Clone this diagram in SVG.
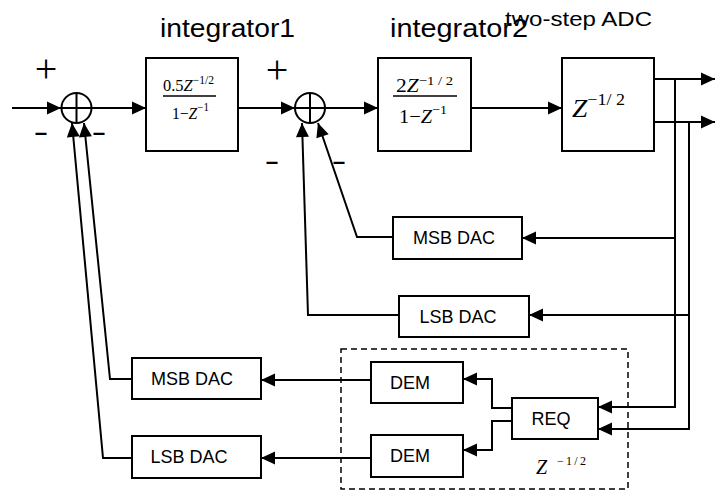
<svg xmlns="http://www.w3.org/2000/svg" width="715" height="493" viewBox="0 0 715 493">
<defs>
<marker id="arr" markerUnits="userSpaceOnUse" markerWidth="15" markerHeight="14" refX="14" refY="6.5" orient="auto" overflow="visible">
<path d="M0,0 L14,6.5 L0,13 z" fill="#000"/>
</marker>
</defs>
<style>
.box{fill:#fff;stroke:#000;stroke-width:2}
.sum{fill:#fff;stroke:#000;stroke-width:2}
.wire{fill:none;stroke:#000;stroke-width:2}
.arrow{fill:none;stroke:#000;stroke-width:2;marker-end:url(#arr)}
.lbl{font-family:"Liberation Sans",Arial,sans-serif;font-size:18px;fill:#000;text-anchor:middle}
.title{font-family:"Liberation Sans",Arial,sans-serif;fill:#000}
.math{font-family:"Liberation Serif","Times New Roman",serif;fill:#000}
.sign{font-family:"Liberation Serif","Times New Roman",serif;font-size:40px;fill:#000;text-anchor:middle}
.minus{font-family:"Liberation Sans",Arial,sans-serif;font-size:28px;fill:#000;text-anchor:middle}
</style>
<rect width="715" height="493" fill="#fff"/>

<g id="titles">
<text class="title" x="160" y="37" font-size="25" textLength="135" lengthAdjust="spacingAndGlyphs">integrator1</text>
<text class="title" x="390" y="37" font-size="25" textLength="138" lengthAdjust="spacingAndGlyphs">integrator2</text>
<text class="title" x="505" y="26" font-size="20" textLength="147" lengthAdjust="spacingAndGlyphs">two-step ADC</text>
</g>

<g id="connectors">
<path class="arrow" d="M12,108 H61"/>
<path class="arrow" d="M92,108 H146"/>
<path class="arrow" d="M238,108 H295"/>
<path class="arrow" d="M325,108 H378"/>
<path class="arrow" d="M471,108 H562"/>
<path class="arrow" d="M654,79 H715"/>
<path class="arrow" d="M654,122 H715"/>
<path class="arrow" d="M675,79 V407 H598"/>
<path class="arrow" d="M689,122 V429 H598"/>
<path class="arrow" d="M675,238 H522"/>
<path class="arrow" d="M689,315 H529"/>
<path class="arrow" d="M393,237 H357 L318,123"/>
<path class="arrow" d="M399,315 H308 L302,123"/>
<path class="arrow" d="M512,408 H492 V379 H463"/>
<path class="arrow" d="M512,421 H492 V450 H463"/>
<path class="arrow" d="M371,380 H261"/>
<path class="arrow" d="M371,458 H261"/>
<path class="arrow" d="M132,379 H110 L84,123"/>
<path class="arrow" d="M132,458 H103 L72,123"/>
</g>

<g id="sum1">
<circle class="sum" cx="76.5" cy="108" r="15"/>
<path class="wire" d="M61.5,108 H91.5 M76.5,93 V123"/>
<text class="sign" x="46" y="82">+</text>
<text class="minus" x="41" y="141" textLength="15" lengthAdjust="spacingAndGlyphs">-</text>
<text class="minus" x="99" y="141" textLength="15" lengthAdjust="spacingAndGlyphs">-</text>
</g>

<g id="integrator1">
<rect class="box" x="146" y="58" width="92" height="93"/>
<text class="math" x="163" y="91" font-size="17" textLength="51" lengthAdjust="spacingAndGlyphs">0.5<tspan font-style="italic">Z</tspan><tspan font-size="12" dy="-7">−1/2</tspan></text>
<line x1="163" y1="96" x2="216" y2="96" stroke="#000" stroke-width="1.5"/>
<text class="math" x="172" y="119" font-size="17" textLength="37" lengthAdjust="spacingAndGlyphs">1−<tspan font-style="italic">Z</tspan><tspan font-size="12" dy="-8">−1</tspan></text>
</g>

<g id="sum2">
<circle class="sum" cx="310" cy="108" r="15"/>
<path class="wire" d="M295,108 H325 M310,93 V123"/>
<text class="sign" x="277" y="83">+</text>
<text class="minus" x="272" y="170" textLength="15" lengthAdjust="spacingAndGlyphs">-</text>
<text class="minus" x="339" y="170" textLength="15" lengthAdjust="spacingAndGlyphs">-</text>
</g>

<g id="integrator2">
<rect class="box" x="378" y="58" width="93" height="93"/>
<text class="math" x="396" y="92" font-size="19" textLength="57" lengthAdjust="spacingAndGlyphs">2<tspan font-style="italic">Z</tspan><tspan font-size="13" dy="-7">−1 / 2</tspan></text>
<line x1="393" y1="96" x2="457" y2="96" stroke="#000" stroke-width="1.5"/>
<text class="math" x="399" y="123" font-size="19" textLength="48" lengthAdjust="spacingAndGlyphs">1−<tspan font-style="italic">Z</tspan><tspan font-size="13" dy="-9">−1</tspan></text>
</g>

<g id="adc">
<rect class="box" x="562" y="58" width="92" height="93"/>
<text class="math" x="572" y="117" font-size="26" textLength="53" lengthAdjust="spacingAndGlyphs"><tspan font-style="italic">Z</tspan><tspan font-size="17" dy="-12">−1/ 2</tspan></text>
</g>

<g id="msb-dac-1">
<rect class="box" x="393" y="217" width="129" height="42"/>
<text class="lbl" x="454" y="244">MSB DAC</text>
</g>

<g id="lsb-dac-1">
<rect class="box" x="399" y="296" width="130" height="41"/>
<text class="lbl" x="458" y="323">LSB DAC</text>
</g>

<g id="msb-dac-2">
<rect class="box" x="132" y="358" width="129" height="41"/>
<text class="lbl" x="192" y="385">MSB DAC</text>
</g>

<g id="lsb-dac-2">
<rect class="box" x="132" y="436" width="129" height="42"/>
<text class="lbl" x="189" y="463">LSB DAC</text>
</g>

<g id="delay-block">
<rect x="341" y="349" width="287" height="140" fill="none" stroke="#000" stroke-width="1.5" stroke-dasharray="6,4"/>
<text class="math" x="536" y="474" font-size="20" fill="#333" font-style="italic">Z</text>
<text class="math" x="557" y="465" font-size="12" fill="#333" textLength="29" lengthAdjust="spacing">− 1 / 2</text>
</g>

<g id="dem-1">
<rect class="box" x="371" y="362" width="92" height="41"/>
<text class="lbl" x="410" y="389">DEM</text>
</g>

<g id="dem-2">
<rect class="box" x="371" y="435" width="92" height="42"/>
<text class="lbl" x="410" y="462">DEM</text>
</g>

<g id="req">
<rect class="box" x="512" y="398" width="86" height="41"/>
<text class="lbl" x="551" y="425">REQ</text>
</g>
</svg>
